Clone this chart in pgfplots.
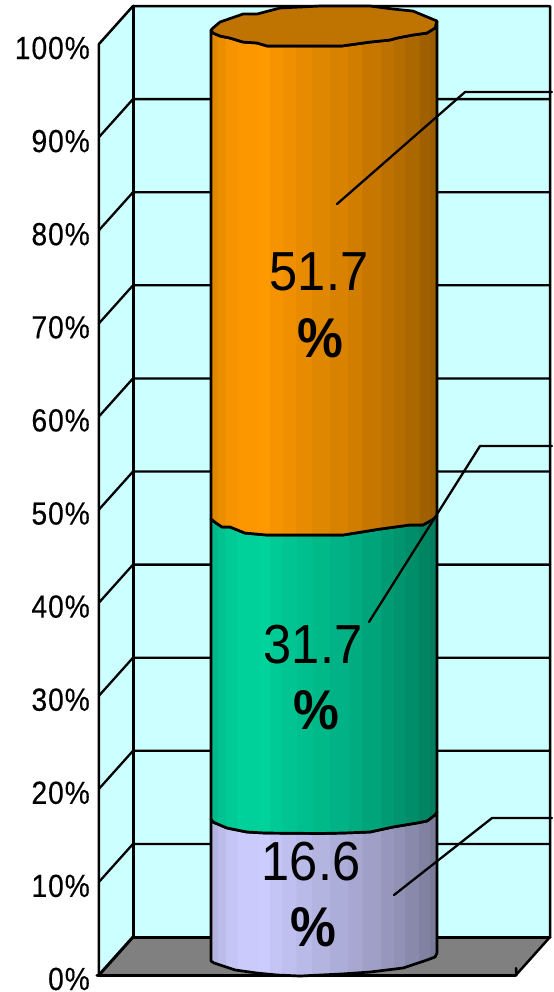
\documentclass[border=0pt]{standalone}
\usepackage{pgfplots}
\pgfplotsset{compat=1.18}
\usepackage{fontspec}
\setmainfont{Liberation Sans}
\newfontfamily\tickf[FakeStretch=0.88,FakeBold=0.3,LetterSpace=3]{Liberation Sans}
\newfontfamily\dataf[FakeStretch=0.92]{Liberation Sans}
\definecolor{wall}{HTML}{CCFFFF}
\definecolor{floorc}{HTML}{808080}
\definecolor{orangeb}{HTML}{FF9900}
\definecolor{greenb}{HTML}{00D29C}
\definecolor{lavb}{HTML}{CCCCFF}
\definecolor{topc}{HTML}{BF7300}
\newcommand\cylshade[2]{\pgfdeclarehorizontalshading{#1}{100bp}{%
color(0bp)=(#2!88!black); color(26.33bp)=(#2!88!black);
color(26.34bp)=(#2!92!black); color(28.1bp)=(#2!92!black);
color(28.11bp)=(#2!96!black); color(30.75bp)=(#2!96!black);
color(30.76bp)=(#2!99!black); color(35.4bp)=(#2!99!black);
color(35.41bp)=(#2!100!black); color(38bp)=(#2!100!black);
color(38.01bp)=(#2!96!black); color(40.7bp)=(#2!96!black);
color(40.71bp)=(#2!94!black); color(43.8bp)=(#2!94!black);
color(43.81bp)=(#2!91!black); color(47.3bp)=(#2!91!black);
color(47.31bp)=(#2!88!black); color(51.3bp)=(#2!88!black);
color(51.31bp)=(#2!85!black); color(55.3bp)=(#2!85!black);
color(55.31bp)=(#2!82!black); color(58.4bp)=(#2!82!black);
color(58.41bp)=(#2!78!black); color(62.6bp)=(#2!78!black);
color(62.61bp)=(#2!74!black); color(65.3bp)=(#2!74!black);
color(65.31bp)=(#2!71!black); color(67.9bp)=(#2!71!black);
color(67.91bp)=(#2!67!black); color(71bp)=(#2!67!black);
color(71.01bp)=(#2!63!black); color(73.4bp)=(#2!63!black);
color(73.41bp)=(#2!60!black); color(100bp)=(#2!60!black)}}
\cylshade{cylorange}{orangeb}
\cylshade{cylgreen}{greenb}
\cylshade{cyllav}{lavb}
\begin{document}
\begin{tikzpicture}[x=1pt,y=1pt]
\begin{axis}[
  scale only axis, width=453pt, height=992pt,
  xmin=99, xmax=552, ymin=-1.826, ymax=104.73,
  clip=false,
  axis line style={draw=none},
  axis lines=left,
  xtick=\empty,
  ytick={0,10,...,100},
  yticklabels={0\%,10\%,20\%,30\%,40\%,50\%,60\%,70\%,80\%,90\%,100\%},
  major tick length=0pt,
  yticklabel style={font=\tickf\fontsize{32}{32}\selectfont, anchor=east, inner sep=0pt, xshift=-9pt, yshift=-4pt},
  every axis plot/.append style={line join=round, line cap=round},
]
\path (axis cs:0,-1.826) rectangle (axis cs:552,104.73);
% walls and floor
\addplot[fill=wall,draw=none] coordinates {(133,4.08)(550,4.08)(550,104.08)(133,104.08)} --cycle;
\addplot[fill=wall,draw=none] coordinates {(99,0)(133,4.08)(133,104.08)(99,100)} --cycle;
\addplot[fill=floorc,draw=none] coordinates {(99,0)(516,0)(550,4.08)(133,4.08)} --cycle;
% gridlines
\addplot[black,line width=2.3pt] coordinates {(99,10)(133,14.08)(550,14.08)};
\addplot[black,line width=2.3pt] coordinates {(99,20)(133,24.08)(550,24.08)};
\addplot[black,line width=2.3pt] coordinates {(99,30)(133,34.08)(550,34.08)};
\addplot[black,line width=2.3pt] coordinates {(99,40)(133,44.08)(550,44.08)};
\addplot[black,line width=2.3pt] coordinates {(99,50)(133,54.08)(550,54.08)};
\addplot[black,line width=2.3pt] coordinates {(99,60)(133,64.08)(550,64.08)};
\addplot[black,line width=2.3pt] coordinates {(99,70)(133,74.08)(550,74.08)};
\addplot[black,line width=2.3pt] coordinates {(99,80)(133,84.08)(550,84.08)};
\addplot[black,line width=2.3pt] coordinates {(99,90)(133,94.08)(550,94.08)};
% frame
\addplot[black,line width=2.5pt] coordinates {(99,0)(99,100)(133,104.08)(550,104.08)(550,4.08)(516,0)(516,0.75)};
\addplot[black,line width=3pt] coordinates {(133,104.08)(133,4.08)(550,4.08)};
\addplot[black,line width=3pt] coordinates {(133,4.08)(99,0)};
\addplot[black,line width=3pt] coordinates {(97,0)(516,0)};
% cylinder: lavender 16.6
\addplot[shade,shading=cyllav,draw=black,line width=2.7pt] coordinates {
 (211,16.76)(213,16.43)(227,15.79)(247,15.36)(265,15.25)(320,15.2)(343,15.25)(370,15.36)(393,15.9)(417,16.33)(427,16.54)(435,17.19)(437,17.51)
 (437,2.36)(435,1.93)(427,1.61)(403,0.75)(370,0.32)(342,0.11)(300,-0.11)(277,0)(257,0.21)(235,0.54)(214,1.29)(211,1.50)} --cycle;
% green 31.7
\addplot[shade,shading=cylgreen,draw=black,line width=2.7pt] coordinates {
 (211,48.98)(216,48.55)(222,48.12)(230,48.12)(245,47.47)(267,47.26)(343,47.26)(380,47.9)(410,48.34)(423,48.34)(432,48.87)(437,49.3)
 (437,17.51)(435,17.19)(427,16.54)(417,16.33)(393,15.9)(370,15.36)(343,15.25)(320,15.2)(265,15.25)(247,15.36)(227,15.79)(213,16.43)(211,16.76)} --cycle;
% orange 51.7
\addplot[shade,shading=cylorange,draw=black,line width=2.7pt] coordinates {
 (211,101.5)(213,101.18)(220,100.86)(230,100.64)(243,100.21)(257,100.11)(267,99.79)(342,99.79)(370,100.21)(390,100.43)(397,100.64)(413,100.97)(427,101.18)(435,101.72)(437,102.47)
 (437,49.3)(432,48.87)(423,48.34)(410,48.34)(380,47.9)(343,47.26)(267,47.26)(245,47.47)(230,48.12)(222,48.12)(216,48.55)(211,48.98)} --cycle;
% top
\addplot[fill=topc,draw=black,line width=2.7pt] coordinates {
 (211,101.5)(213,101.72)(220,102.36)(243,103.22)(257,103.22)(280,103.87)(320,104.08)(370,104.08)(393,103.76)(413,103.54)(437,102.47)
 (435,101.72)(427,101.18)(413,100.97)(397,100.64)(390,100.43)(370,100.21)(342,99.79)(267,99.79)(257,100.11)(243,100.21)(230,100.64)(220,100.86)(213,101.18)} --cycle;
% leader lines
\addplot[black,line width=2.3pt] coordinates {(394,8.59)(492,16.86)(552,16.86)};
\addplot[black,line width=2.3pt] coordinates {(369,37.92)(480,56.82)(552,56.82)};
\addplot[black,line width=2.3pt] coordinates {(337,82.81)(465,94.84)(552,94.84)};
% value labels
\node[font=\dataf\fontsize{55}{55}\selectfont] at (axis cs:319,75.51) {51.7};
\node[font=\dataf\fontsize{56}{56}\selectfont\bfseries] at (axis cs:320,68.42) {\%};
\node[font=\dataf\fontsize{55}{55}\selectfont] at (axis cs:313,35.45) {31.7};
\node[font=\dataf\fontsize{56}{56}\selectfont\bfseries] at (axis cs:316,28.46) {\%};
\node[font=\dataf\fontsize{55}{55}\selectfont] at (axis cs:311,12.14) {16.6};
\node[font=\dataf\fontsize{56}{56}\selectfont\bfseries] at (axis cs:313,5.16) {\%};
\end{axis}
\end{tikzpicture}
\end{document}
